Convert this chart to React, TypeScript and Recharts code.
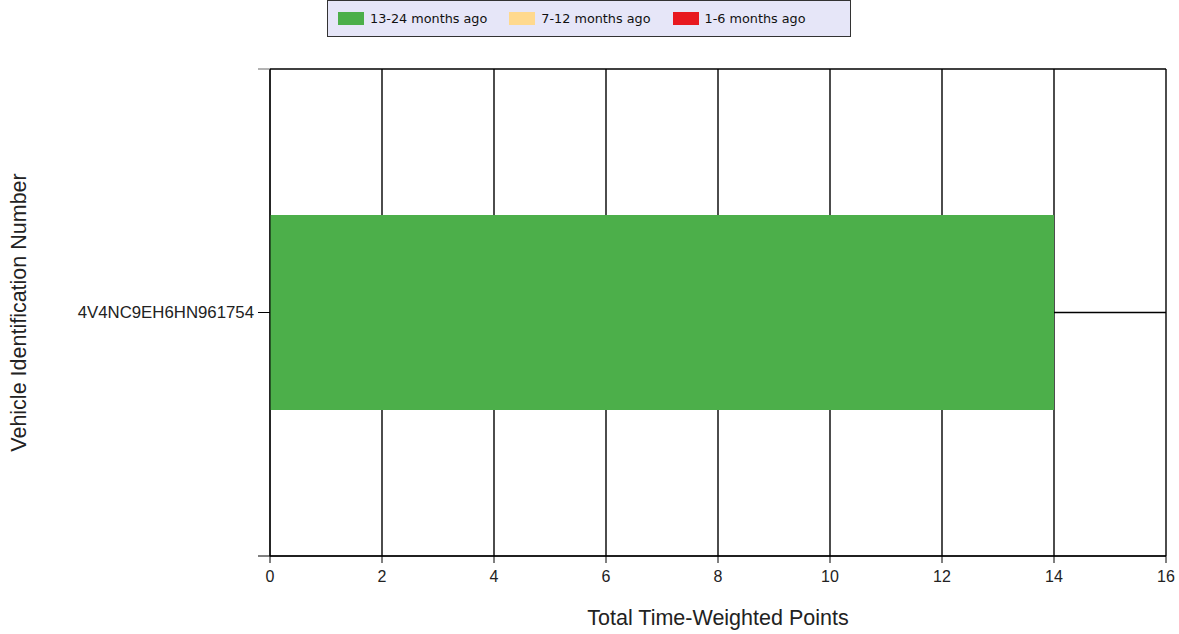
import React from 'react';
import { BarChart, Bar, XAxis, YAxis, CartesianGrid, Legend } from 'recharts';

const vins = ['4V4NC9EH6HN961754'];
const months13to24 = [14];
const months7to12 = [0];
const months1to6 = [0];
const xTicks = [0, 2, 4, 6, 8, 10, 12, 14, 16];

const seriesInfo = [
  { key: 'old', name: '13-24 months ago', color: '#4caf4a' },
  { key: 'mid', name: '7-12 months ago', color: '#ffd98e' },
  { key: 'recent', name: '1-6 months ago', color: '#e8191f' },
];

const data = vins.map((vin, i) => ({
  vin,
  old: months13to24[i],
  mid: months7to12[i],
  recent: months1to6[i],
}));

const LegendBox = () => (
  <div
    style={{
      boxSizing: 'border-box',
      height: 37,
      width: 524,
      border: '1px solid #333',
      background: '#e6e6f8',
      display: 'flex',
      alignItems: 'center',
      paddingLeft: 10,
      fontFamily: '"DejaVu Sans", sans-serif',
      fontSize: 12.8,
      color: '#111',
    }}
  >
    {seriesInfo.map((s) => (
      <div key={s.key} style={{ display: 'flex', alignItems: 'center', marginRight: 22 }}>
        <span style={{ display: 'inline-block', width: 26, height: 13, background: s.color, marginRight: 6 }} />
        <span>{s.name}</span>
      </div>
    ))}
  </div>
);

// category tick: label plus the band boundary ticks
const VinTick = (props: any) => {
  const { x, y, payload } = props;
  const off = payload && payload.offset ? payload.offset : 243.5;
  return (
    <g>
      <line x1={x + 4} x2={x + 16} y1={y - off} y2={y - off} stroke="#666" />
      <line x1={x + 4} x2={x + 16} y1={y + off} y2={y + off} stroke="#000" />
      <text x={x} y={y} dy={5} textAnchor="end" fontSize={16.8} fill="#222" fontFamily="'Liberation Sans', Arial, sans-serif">
        {payload.value}
      </text>
    </g>
  );
};

const YLabel = (props: any) => {
  const vb = props.viewBox || {};
  const cx = (vb.x || 0) + 26;
  const cy = (vb.y || 0) + (vb.height || 0) / 2;
  return (
    <text x={cx} y={cy} transform={`rotate(-90 ${cx} ${cy})`} textAnchor="middle" fontSize={21.5} fill="#222" fontFamily="'Liberation Sans', Arial, sans-serif">
      Vehicle Identification Number
    </text>
  );
};

const XLabel = (props: any) => {
  const vb = props.viewBox || {};
  const cx = (vb.x || 0) + (vb.width || 0) / 2;
  return (
    <text x={cx} y={(vb.y || 0) + 69} textAnchor="middle" fontSize={21.5} fill="#222" fontFamily="'Liberation Sans', Arial, sans-serif">
      Total Time-Weighted Points
    </text>
  );
};

export default function App() {
  return (
    <div style={{ position: 'absolute', left: 0, top: 0, background: '#fff' }}>
      <BarChart
        width={1179}
        height={634}
        data={data}
        layout="vertical"
        margin={{ top: 32, right: 13, left: 0, bottom: 0 }}
        barCategoryGap="30%"
      >
        <CartesianGrid stroke="#000" strokeWidth={1.4} strokeOpacity={1} />
        <XAxis
          type="number"
          dataKey="old"
          domain={[0, 16]}
          ticks={xTicks}
          interval={0}
          height={78}
          stroke="#000"
          tickSize={7}
          tickMargin={8}
          tick={{ fill: '#222', fontSize: 16, fontFamily: "'Liberation Sans', Arial, sans-serif" }}
          label={<XLabel />}
        />
        <XAxis
          xAxisId="top"
          orientation="top"
          type="number"
          domain={[0, 16]}
          height={0}
          tick={false}
          tickLine={false}
          stroke="#666"
          strokeWidth={1.5}
        />
        <YAxis
          type="category"
          dataKey="vin"
          width={270}
          stroke="#000"
          tickSize={12}
          tickMargin={4}
          tick={<VinTick />}
          label={<YLabel />}
        />
        <Legend
          verticalAlign="top"
          align="left"
          content={<LegendBox />}
          wrapperStyle={{ position: 'absolute', top: 0, left: 327, width: 524, height: 37 }}
        />
        {seriesInfo.map((s) => (
          <Bar key={s.key} dataKey={s.key} name={s.name} stackId="a" fill={s.color} isAnimationActive={false} />
        ))}
      </BarChart>
    </div>
  );
}
